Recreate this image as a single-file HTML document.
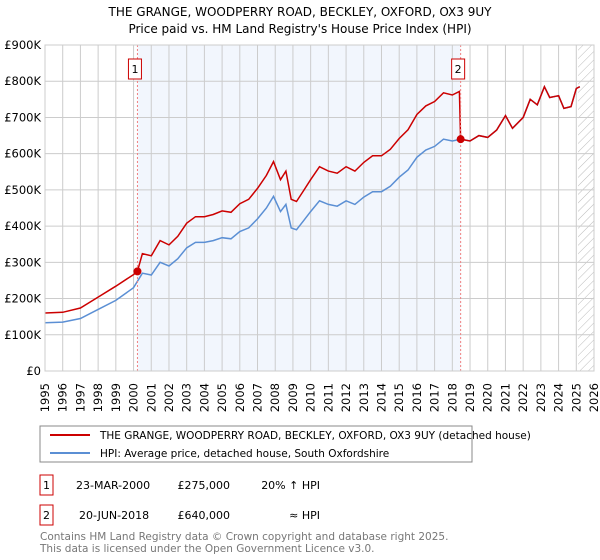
<!DOCTYPE html>
<html><head><meta charset="utf-8"><style>
body{margin:0;background:#fff;font-family:"DejaVu Sans","Liberation Sans",sans-serif;}
#wrap{position:relative;width:600px;height:560px;overflow:hidden}
</style></head><body>
<div id="wrap">
<svg id="svg" width="600" height="560" xmlns="http://www.w3.org/2000/svg">
<defs><pattern id="hatch" width="6" height="6" patternUnits="userSpaceOnUse" patternTransform="rotate(45)"><line x1="0" y1="0" x2="0" y2="6" stroke="#bbb" stroke-width="1"/></pattern></defs>
<text x="300" y="16" text-anchor="middle" font-size="12" fill="#000">THE GRANGE, WOODPERRY ROAD, BECKLEY, OXFORD, OX3 9UY</text>
<text x="300" y="33" text-anchor="middle" font-size="12" fill="#000">Price paid vs. HM Land Registry's House Price Index (HPI)</text>
<g id="grid"></g><g id="marks"></g>
<rect x="40" y="426" width="432" height="36" fill="#fff" stroke="#888"/>
<line x1="50" y1="435" x2="90" y2="435" stroke="#cc0000" stroke-width="2"/>
<text x="100" y="439" font-size="10.5">THE GRANGE, WOODPERRY ROAD, BECKLEY, OXFORD, OX3 9UY (detached house)</text>
<line x1="50" y1="453" x2="90" y2="453" stroke="#5b8fd4" stroke-width="2"/>
<text x="100" y="457" font-size="10.5">HPI: Average price, detached house, South Oxfordshire</text>
<rect x="40" y="475" width="13" height="20" fill="none" stroke="#cc0000"/>
<text x="46.5" y="489" font-size="11" text-anchor="middle">1</text>
<text x="76" y="489" font-size="11">23-MAR-2000</text>
<text x="230" y="489" font-size="11" text-anchor="end">£275,000</text>
<text x="320" y="489" font-size="11" text-anchor="end">20% ↑ HPI</text>
<rect x="40" y="505" width="13" height="20" fill="none" stroke="#cc0000"/>
<text x="46.5" y="519" font-size="11" text-anchor="middle">2</text>
<text x="79" y="519" font-size="11">20-JUN-2018</text>
<text x="230" y="519" font-size="11" text-anchor="end">£640,000</text>
<text x="320" y="519" font-size="11" text-anchor="end">≈ HPI</text>
<text x="40" y="540" font-size="10.5" fill="#777">Contains HM Land Registry data © Crown copyright and database right 2025.</text>
<text x="40" y="552" font-size="10.5" fill="#777">This data is licensed under the Open Government Licence v3.0.</text>
</svg></div>
<script>
const yTicks=[0,100,200,300,400,500,600,700,800,900];
const yTickLabels=["£0","£100K","£200K","£300K","£400K","£500K","£600K","£700K","£800K","£900K"];
const xYears=[1995,1996,1997,1998,1999,2000,2001,2002,2003,2004,2005,2006,2007,2008,2009,2010,2011,2012,2013,2014,2015,2016,2017,2018,2019,2020,2021,2022,2023,2024,2025,2026];
const hpiT=[1995,1996,1997,1998,1999,2000,2000.5,2001,2001.5,2002,2002.5,2003,2003.5,2004,2004.5,2005,2005.5,2006,2006.5,2007,2007.5,2007.9,2008.3,2008.6,2008.9,2009.2,2009.6,2010,2010.5,2011,2011.5,2012,2012.5,2013,2013.5,2014,2014.5,2015,2015.5,2016,2016.5,2017,2017.5,2018,2018.5,2019,2019.5,2020,2020.5,2021,2021.4,2022,2022.4,2022.8,2023.2,2023.5,2024,2024.3,2024.7,2025,2025.2];
const hpiV=[133,135,145,170,195,230,270,265,300,290,310,340,355,355,360,368,365,385,395,420,450,482,440,460,395,390,415,440,470,460,455,470,460,480,495,495,510,535,555,590,610,620,640,635,640,635,650,645,665,705,670,700,750,735,785,755,760,725,730,780,785];
const priceT=[1995,1996,1997,1998,1999,2000,2000.22,2000.5,2001,2001.5,2002,2002.5,2003,2003.5,2004,2004.5,2005,2005.5,2006,2006.5,2007,2007.5,2007.9,2008.3,2008.6,2008.9,2009.2,2009.6,2010,2010.5,2011,2011.5,2012,2012.5,2013,2013.5,2014,2014.5,2015,2015.5,2016,2016.5,2017,2017.5,2018,2018.4,2018.47,2019,2019.5,2020,2020.5,2021,2021.4,2022,2022.4,2022.8,2023.2,2023.5,2024,2024.3,2024.7,2025,2025.2];
const priceV=[160,162,174,204,234,266,275,324,318,360,348,372,408,426,426,432,442,438,462,474,504,540,578,528,552,474,468,498,528,564,552,546,564,552,576,594,594,612,642,666,708,732,744,768,762,772,640,635,650,645,665,705,670,700,750,735,785,755,760,725,730,780,785];
const saleT=[2000.22,2018.47];const saleV=[275,640];const saleLabels=["1","2"];
const X0=45,X1=594,Y0=371,Y1=45;
const xs=t=>X0+(t-1995)/(2026-1995)*(X1-X0);
const ys=v=>Y0-v/900*(Y0-Y1);
const NS="http://www.w3.org/2000/svg";
function mk(tag,attrs,parent){const e=document.createElementNS(NS,tag);for(const k in attrs)e.setAttribute(k,attrs[k]);parent.appendChild(e);return e;}
const g=document.getElementById('grid'),m=document.getElementById('marks');
let sh=mk('rect',{x:xs(saleT[0]),y:Y1,width:xs(saleT[1])-xs(saleT[0]),height:Y0-Y1,fill:'#f2f6fd'},g);


let ht=mk('rect',{x:xs(2025.1),y:Y1,width:X1-xs(2025.1),height:Y0-Y1,fill:'url(#hatch)'},g);


yTicks.forEach((v,i)=>{
 const l=mk('line',{x1:X0,x2:X1,y1:ys(v),y2:ys(v),stroke:'#ccc','stroke-width':1},g);
 
 
 const t=mk('text',{x:X0-4,y:ys(v)+4,'text-anchor':'end','font-size':11.5},g);t.textContent=yTickLabels[i];
 
 
});
xYears.forEach(yr=>{
 const l=mk('line',{x1:xs(yr),x2:xs(yr),y1:Y1,y2:Y0,stroke:'#ccc','stroke-width':1},g);
 
 
 const x=xs(yr)+4,y=Y0+12;
 const t=mk('text',{x:x,y:y,'text-anchor':'end','font-size':11.5,transform:`rotate(-90 ${x} ${y})`},g);t.textContent=yr;
 
 
});
function path(T,V,c,name){let d=T.map((t,i)=>(i?'L':'M')+xs(t).toFixed(1)+','+ys(V[i]).toFixed(1)).join('');
 const p=mk('path',{d:d,fill:'none',stroke:c,'stroke-width':1.5},m);
 
 }
path(hpiT,hpiV,'#5b8fd4','hpi-line');
path(priceT,priceV,'#cc0000','price-paid-line');
saleT.forEach((t,i)=>{
 const l=mk('line',{x1:xs(t),x2:xs(t),y1:Y1,y2:Y0,stroke:'#f08080','stroke-dasharray':'2,2'},m);
 
 
 const c=mk('circle',{cx:xs(t),cy:ys(saleV[i]),r:4,fill:'#cc0000'},m);
 
 
 const r=mk('rect',{x:xs(t)-9,y:59,width:13,height:20,fill:'#fff',stroke:'#cc0000'},m);
 
 
 const tx=mk('text',{x:xs(t)-2.5,y:73,'text-anchor':'middle','font-size':11},m);tx.textContent=saleLabels[i];
 
 
});
const ax=mk('rect',{x:X0,y:Y1,width:X1-X0,height:Y0-Y1,fill:'none',stroke:'#ccc'},m);


</script>
</body></html>
